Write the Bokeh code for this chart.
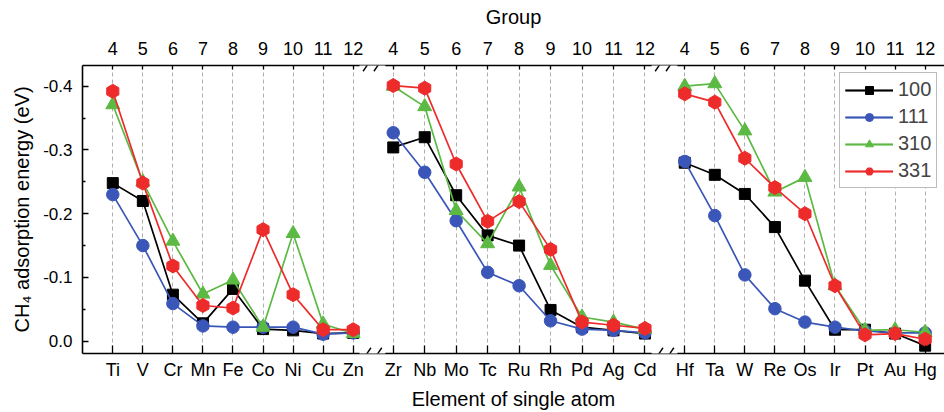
import numpy as np
from bokeh.plotting import figure
from bokeh.models import (Range1d, FixedTicker, LinearAxis, PrintfTickFormatter,
                          Legend, LegendItem, PolyAnnotation, Arrow)
from bokeh.embed import file_html
from bokeh.resources import INLINE

# ---------------- data ----------------
groups = [4, 5, 6, 7, 8, 9, 10, 11, 12]
elements_3d = ["Ti", "V", "Cr", "Mn", "Fe", "Co", "Ni", "Cu", "Zn"]
elements_4d = ["Zr", "Nb", "Mo", "Tc", "Ru", "Rh", "Pd", "Ag", "Cd"]
elements_5d = ["Hf", "Ta", "W", "Re", "Os", "Ir", "Pt", "Au", "Hg"]

series_names = ["100", "111", "310", "331"]

e100_3d = [-0.248, -0.220, -0.073, -0.028, -0.082, -0.019, -0.017, -0.012, -0.013]
e111_3d = [-0.230, -0.150, -0.059, -0.024, -0.022, -0.022, -0.022, -0.011, -0.013]
e310_3d = [-0.371, -0.250, -0.157, -0.074, -0.096, -0.022, -0.169, -0.027, -0.012]
e331_3d = [-0.392, -0.248, -0.118, -0.056, -0.052, -0.175, -0.073, -0.018, -0.018]

e100_4d = [-0.304, -0.320, -0.229, -0.166, -0.150, -0.049, -0.022, -0.017, -0.012]
e111_4d = [-0.327, -0.265, -0.189, -0.108, -0.087, -0.032, -0.019, -0.017, -0.013]
e310_4d = [-0.400, -0.368, -0.205, -0.153, -0.242, -0.119, -0.038, -0.030, -0.019]
e331_4d = [-0.401, -0.397, -0.278, -0.188, -0.219, -0.144, -0.030, -0.025, -0.020]

e100_5d = [-0.280, -0.261, -0.231, -0.179, -0.095, -0.018, -0.018, -0.012, 0.007]
e111_5d = [-0.282, -0.197, -0.104, -0.051, -0.030, -0.022, -0.016, -0.013, -0.013]
e310_5d = [-0.400, -0.404, -0.330, -0.234, -0.257, -0.087, -0.017, -0.018, -0.014]
e331_5d = [-0.388, -0.375, -0.287, -0.241, -0.200, -0.087, -0.010, -0.012, -0.003]

y_ticks = [-0.4, -0.3, -0.2, -0.1, 0.0]
y_minor = [-0.45, -0.35, -0.25, -0.15, -0.05]

# ---------------- layout of the broken x axis ----------------
panel_start = [0.0, 9.333, 19.033]
panel_step = [1.0, 1.047, 1.0]
panel_elements = [elements_3d, elements_4d, elements_5d]
data = {
    "100": [e100_3d, e100_4d, e100_5d],
    "111": [e111_3d, e111_4d, e111_5d],
    "310": [e310_3d, e310_4d, e310_5d],
    "331": [e331_3d, e331_4d, e331_5d],
}
styles = {
    "100": dict(color="#000000", marker="square", size=11, angle=0.0),
    "111": dict(color="#3A56B8", marker="circle", size=12.5, angle=0.0),
    "310": dict(color="#5CB943", marker="triangle", size=14, angle=0.0),
    "331": dict(color="#EE2B2B", marker="hex", size=14, angle=np.pi / 2),
}

xpos = []
for k in range(3):
    xpos.append([round(panel_start[k] + panel_step[k] * i, 4) for i in range(len(groups))])
all_ticks = [x for row in xpos for x in row]
elem_labels = {x: e for row, els in zip(xpos, panel_elements) for x, e in zip(row, els)}
group_labels = {x: str(g) for row in xpos for x, g in zip(row, groups)}

FONT = "Liberation Sans"

p = figure(width=944, height=412, output_backend="svg", toolbar_location=None,
           x_range=Range1d(-1.008, 27.677), y_range=Range1d(0.0193, -0.4325),
           min_border_left=82, min_border_right=0, min_border_top=65, min_border_bottom=59)
p.outline_line_color = None
p.background_fill_color = "white"

# y axis
ya = p.yaxis[0]
ya.ticker = FixedTicker(ticks=y_ticks, minor_ticks=y_minor)
ya.formatter = PrintfTickFormatter(format="%.1f")
ya.axis_label = "CH\u2084 adsorption energy (eV)"
ya.major_tick_in = 6
ya.major_tick_out = 0
ya.minor_tick_in = 3
ya.minor_tick_out = 0
ya.major_label_standoff = 10
ya.axis_label_standoff = 7

# bottom axis
xa = p.xaxis[0]
xa.ticker = FixedTicker(ticks=all_ticks)
xa.major_label_overrides = elem_labels
xa.axis_label = "Element of single atom"
xa.major_tick_in = 8
xa.major_tick_out = 0
xa.minor_tick_line_color = None
xa.major_label_standoff = 6
xa.axis_label_standoff = 5

# top axis
ta = LinearAxis(ticker=FixedTicker(ticks=all_ticks), major_label_overrides=group_labels,
                axis_label="Group")
ta.major_tick_in = 4
ta.major_tick_out = 0
ta.minor_tick_line_color = None
ta.major_label_standoff = 11
ta.axis_label_standoff = 11
p.add_layout(ta, "above")

for ax in [xa, ya, ta]:
    ax.axis_line_width = 1.6
    ax.axis_line_color = "black"
    ax.major_tick_line_width = 1.3
    ax.minor_tick_line_width = 1.3
    ax.major_label_text_font = FONT
    ax.axis_label_text_font = FONT
    ax.axis_label_text_font_style = "normal"
    ax.axis_label_text_font_size = "20px"
    ax.major_label_text_color = "black"
    ax.axis_label_text_color = "black"
xa.major_label_text_font_size = "18px"
ta.major_label_text_font_size = "18px"
ya.major_label_text_font_size = "17px"

p.xgrid.ticker = FixedTicker(ticks=all_ticks)
p.xgrid.grid_line_color = "#9a9a9a"
p.xgrid.grid_line_dash = "4 3"
p.xgrid.grid_line_width = 0.8
p.ygrid.grid_line_color = None

# series
items = []
for name in series_names:
    st = styles[name]
    rends = []
    for k in range(3):
        r = p.line(xpos[k], data[name][k], line_color=st["color"], line_width=1.7)
        rends.append(r)
    xs = all_ticks
    ys = [v for row in data[name] for v in row]
    s = p.scatter(xs, ys, marker=st["marker"], size=st["size"], angle=st["angle"],
                  fill_color=st["color"], line_color=st["color"])
    rends.append(s)
    items.append(LegendItem(label=name, renderers=rends))

legend = Legend(items=items, location=(757, 165))
legend.label_text_font = FONT
legend.label_text_font_size = "20px"
legend.glyph_width = 48
legend.glyph_height = 20
legend.label_standoff = 5
legend.spacing = 4
legend.padding = 5
legend.margin = 0
legend.border_line_color = "#7a7a7a"
legend.border_line_width = 1.5
legend.background_fill_alpha = 1.0
p.add_layout(legend, "center")

# axis breaks
y_bot = p.y_range.start
y_top = p.y_range.end
gap_centers = [8.64, 18.36]
gap_half = 0.43
dy_cover = 0.006
slash_dx = 0.13
slash_dy = 0.009
for gc in gap_centers:
    for yl in [y_bot, y_top]:
        cover = PolyAnnotation(xs=[gc - gap_half, gc + gap_half, gc + gap_half, gc - gap_half],
                               ys=[yl - dy_cover, yl - dy_cover, yl + dy_cover, yl + dy_cover],
                               fill_color="white", fill_alpha=1.0, line_color=None,
                               level="overlay")
        p.add_layout(cover)
        for off in [-0.18, 0.18]:
            cx = gc + off
            arr = Arrow(end=None, x_start=cx - slash_dx, y_start=yl + slash_dy,
                        x_end=cx + slash_dx, y_end=yl - slash_dy,
                        line_color="black", line_width=1.4, level="overlay")
            p.add_layout(arr)

open("out.html", "w").write(file_html(p, INLINE))
